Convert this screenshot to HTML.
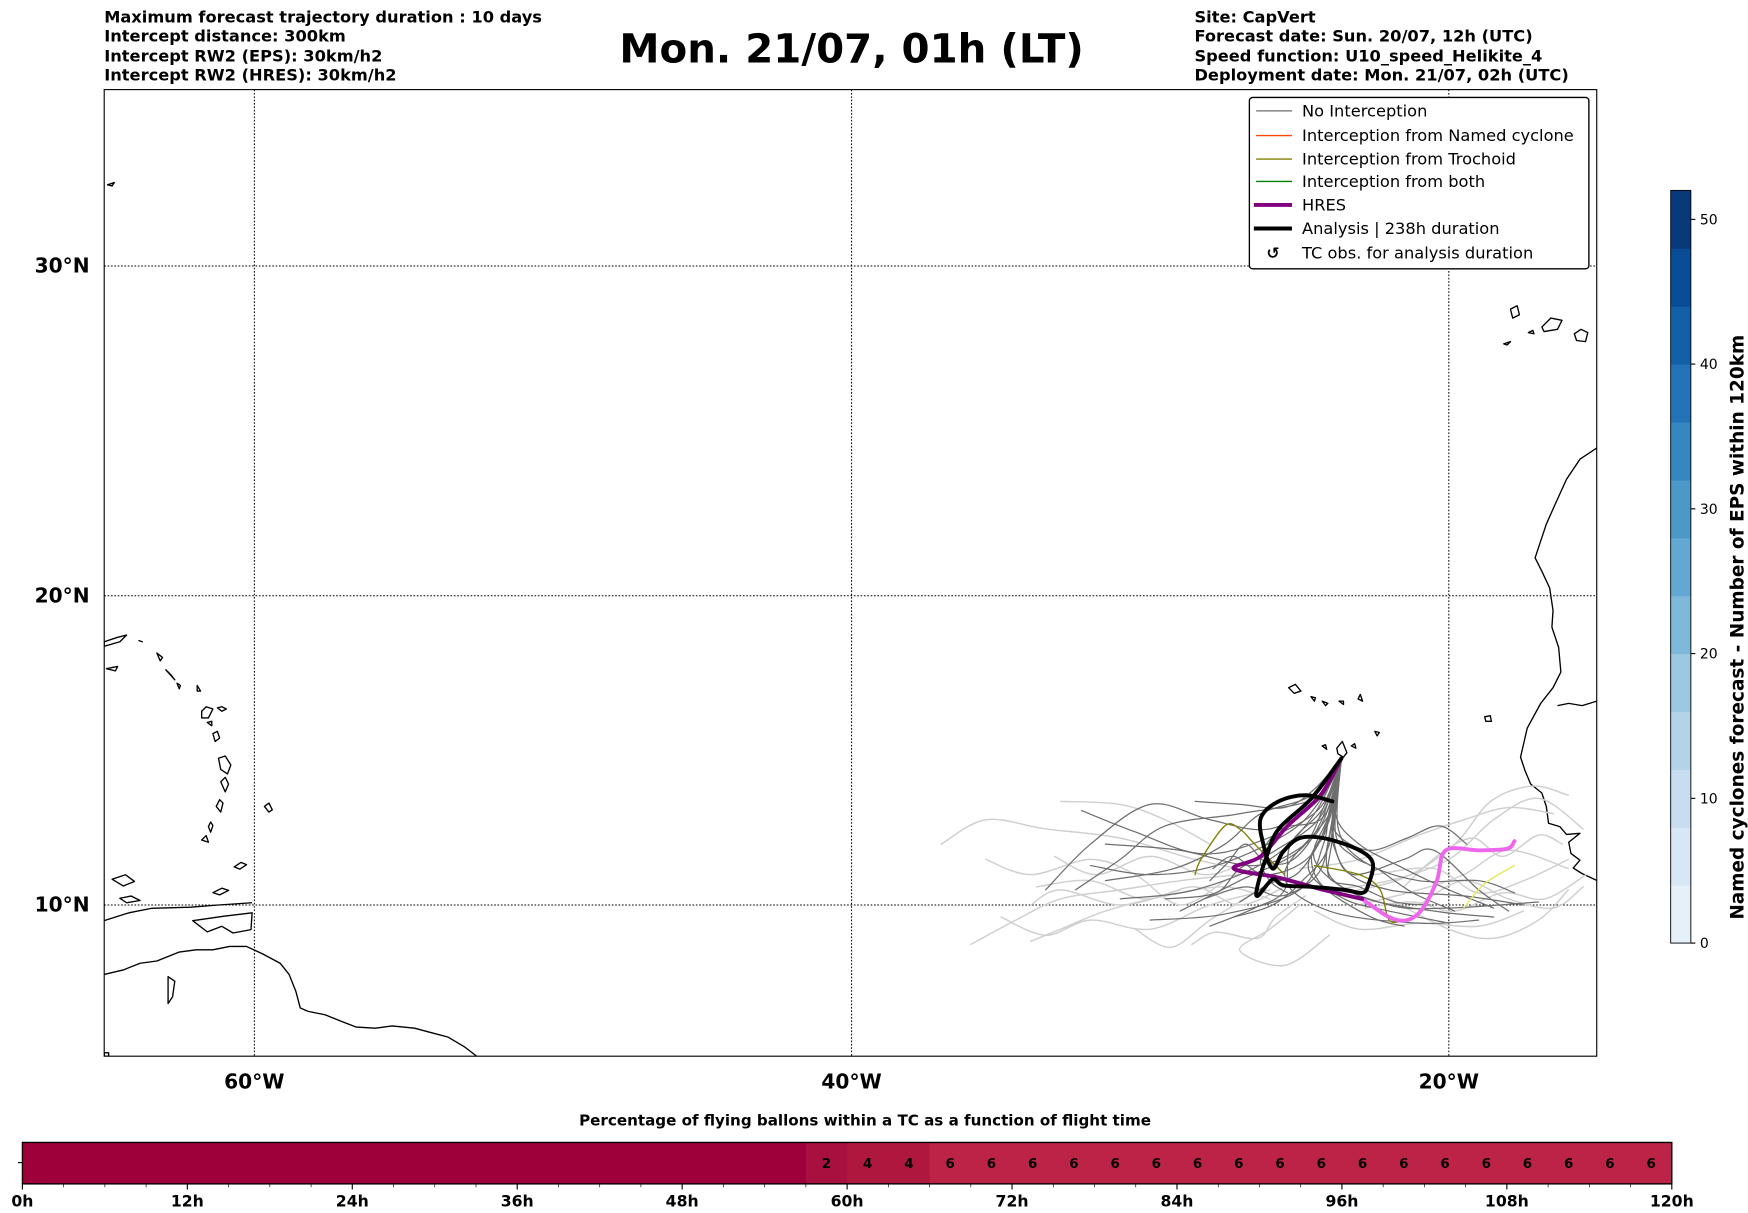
<!DOCTYPE html>
<html><head><meta charset="utf-8"><style>
html,body{margin:0;padding:0;background:#fff;width:1748px;height:1213px;overflow:hidden}
svg{display:block}
text{font-family:"DejaVu Sans","Liberation Sans",sans-serif}
</style></head><body>
<svg id="fig" width="1748" height="1213" viewBox="0 0 1560 1083" preserveAspectRatio="none" xmlns="http://www.w3.org/2000/svg">
<g font-size="14.5" font-weight="bold">
<text x="93" y="20">Maximum forecast trajectory duration : 10 days</text>
<text x="93" y="37">Intercept distance: 300km</text>
<text x="93" y="55">Intercept RW2 (EPS):  30km/h2</text>
<text x="93" y="72">Intercept RW2 (HRES): 30km/h2</text>
</g>
<text x="760" y="56" text-anchor="middle" font-size="36" font-weight="bold">Mon. 21/07, 01h (LT)</text>
<g font-size="14.5" font-weight="bold">
<text x="1066" y="20">Site: CapVert</text>
<text x="1066" y="37">Forecast date: Sun. 20/07, 12h (UTC)</text>
<text x="1066" y="55">Speed function: U10_speed_Helikite_4</text>
<text x="1066" y="72">Deployment date: Mon. 21/07, 02h (UTC)</text>
</g>
<defs><clipPath id="mapclip"><rect x="93" y="80" width="1332" height="863"/></clipPath></defs>
<g id="map">
<g id="grid"></g>
<g clip-path="url(#mapclip)" fill="none" stroke="#000" stroke-width="1.2" stroke-linejoin="round">
<path d="M1425,400 L1410,410 L1398,428 L1388,450 L1380,468 L1370,498 L1376,510 L1383,525 L1386,545 L1385,560 L1391,578 L1393,600 L1386,614 L1375,628 L1363,650 L1357,676 L1361,688 L1366,700 L1376,708 L1380,720 L1382,735 L1392,738 L1398,745 L1410,744 L1400,752 L1402,762 L1410,768 L1404,775 L1412,780 L1425,786"/>
<path d="M1390,630 L1400,628 L1412,630 L1425,626"/>
<path d="M1348,276 l6,-3 l2,8 l-6,3z M1376,292 l8,-8 l10,2 l-4,8 l-12,2z M1405,298 l6,-4 l6,3 l-2,8 l-8,-1z M1364,297 l4,-2 l1,3z M1342,307 l6,-2 l-3,3z"/>
<path d="M1150,614 l6,-3 l5,6 l-6,2z M1170,622 l4,1 l-1,3z M1180,626 l5,2 l-2,2z M1195,626 l4,0 l0,3z M1212,624 l2,-4 l2,6z M1325,640 l5,-1 l1,5 l-5,0z M1227,653 l4,1 l-2,3z M1193,668 l5,-6 l4,10 l-3,4 l-5,-3z M1206,666 l3,-2 l1,4z M1180,666 l3,-1 l1,4z"/>
<path d="M93,870 L110,866 L125,860 L140,858 L160,850 L175,848 L190,848 L205,845 L220,845 L235,852 L250,860 L258,870 L264,885 L268,900 L275,903 L290,906 L305,912 L318,917 L335,918 L350,916 L370,918 L385,922 L400,926 L415,935 L428,945"/>
<path d="M172,822 L200,818 L225,815 L224,830 L208,833 L198,827 L185,832 Z"/>
<path d="M93,822 L115,815 L135,811 L170,810 L195,808 L225,806"/>
<path d="M100,785 l12,-4 l8,6 l-10,4z M107,802 l10,-2 l8,4 l-12,2z M190,797 l8,-4 l6,2 l-8,4z M150,872 l6,4 l-2,14 l-4,6z M93,573 l12,-4 l8,-2 l-6,6 l-14,4z M95,597 l10,-2 l-2,4z M124,572 l3,1z M140,583 l5,4 l-2,3z M148,598 l5,5 l3,4z M158,610 l3,2 l-1,3z M176,612 l3,5 l-3,0z M180,635 l4,-4 l6,2 l-4,8 l-6,0z M194,632 l4,-1 l4,2 l-4,2z M185,645 l4,-1 l0,4z M190,655 l4,-2 l2,6 l-4,3z M195,677 l6,-2 l5,8 l-3,8 l-6,-4z M197,698 l4,-4 l3,6 l-3,7z M193,720 l3,-6 l3,3 l-2,8z M186,738 l2,-4 l2,3 l-2,6z M180,750 l4,-4 l2,6z M236,720 l4,-3 l3,6 l-3,2z M209,774 l6,-4 l5,2 l-6,4z"/>
<path d="M96,165 l6,-2 l-2,3z M93,940 l4,0 l0,3 l-4,0z"/>
</g>
<g id="traj" clip-path="url(#mapclip)"></g>
<rect x="93" y="80" width="1332" height="863" fill="none" stroke="#000" stroke-width="1"/>
<g id="axlabels" font-size="18" font-weight="bold"></g>
</g>
<g font-size="14.5">
<rect x="1115" y="87" width="303" height="153" rx="3" fill="#fff" stroke="#000" stroke-width="1.2"/>
<g><line x1="1121" y1="99" x2="1153" y2="99" stroke="#6e6e6e" stroke-width="1.2"/><text x="1162" y="104">No Interception</text></g>
<g><line x1="1121" y1="121" x2="1153" y2="121" stroke="#ff4500" stroke-width="1.2"/><text x="1162" y="126">Interception from Named cyclone</text></g>
<g><line x1="1121" y1="142" x2="1153" y2="142" stroke="#808000" stroke-width="1.2"/><text x="1162" y="147">Interception from Trochoid</text></g>
<g><line x1="1121" y1="162" x2="1153" y2="162" stroke="#008000" stroke-width="1.2"/><text x="1162" y="167">Interception from both</text></g>
<g><line x1="1119" y1="183" x2="1153" y2="183" stroke="#800080" stroke-width="3.5"/><text x="1162" y="188">HRES</text></g>
<g><line x1="1119" y1="204" x2="1153" y2="204" stroke="#000" stroke-width="3.5"/><text x="1162" y="209">Analysis | 238h duration</text></g>
<g><text x="1136" y="231" text-anchor="middle" font-weight="bold" font-size="14">↺</text><text x="1162" y="231">TC obs. for analysis duration</text></g>
</g>
<g id="cbar"></g>
<text transform="translate(1556,560) rotate(-90)" text-anchor="middle" font-size="16.5" font-weight="bold">Named cyclones forecast - Number of EPS within 120km</text>
<text x="772" y="1005" text-anchor="middle" font-size="13.5" font-weight="bold">Percentage of flying ballons within a TC as a function of flight time</text>
<g id="bbar"></g>
</svg>
<script>
// ---- map data ----
const lonTicks = [-60, -40, -20];
const latTicks = [10, 20, 30];
const startPt = [-23.6, 14.8];
const darkTraj = [
 [startPt,[-24.5,13],[-26,11.5],[-28.5,10.5],[-31,10.2]],
 [startPt,[-24.2,13.2],[-25,11.8],[-27,10.8],[-29,9.8]],
 [startPt,[-24,13],[-24.5,11.5],[-23,10.3],[-20.5,9.8],[-18.5,9.6]],
 [startPt,[-23.8,13.2],[-24,11],[-22,10],[-20,9.9],[-17,10.1]],
 [startPt,[-24.3,13.5],[-26,12.5],[-28,12.8],[-30,13.3],[-32,12],[-33.5,10.5]],
 [startPt,[-24.5,13.5],[-27,13],[-29.5,12.6],[-31,11.5],[-32.5,10.5]],
 [startPt,[-24,13],[-25.5,11],[-24,9.8],[-21,9.4],[-19,9.5]],
 [startPt,[-23.9,12.8],[-23.5,11.2],[-22,10.5],[-19.5,10.3],[-17.5,10]],
 [startPt,[-24.1,13],[-24.8,12],[-26.5,11.3],[-29,11.8],[-31.5,12]],
 [startPt,[-24.4,13.3],[-25.5,12.3],[-27.8,11.3],[-30,11],[-32,11.3]],
 [startPt,[-24,13.1],[-24.2,12],[-25,10.5],[-27.5,9.7],[-30,9.5]],
 [startPt,[-23.9,12.7],[-23.8,11.8],[-23.2,11],[-21.5,11.5],[-20.5,11.8],[-19,10.5],[-18,9.8]],
 [startPt,[-24.2,13.2],[-25.3,12],[-25.5,10.5],[-26.5,9.9],[-28,9.3]],
 [startPt,[-24.6,13.6],[-26.3,13],[-27.5,12],[-29.2,11.2],[-31.5,10.8]],
 [startPt,[-24,12.8],[-24.7,11.2],[-23.5,10.2],[-22,9.8],[-20,9.4]],
 [startPt,[-23.8,13],[-23,12],[-21.5,11.2],[-20,10.5],[-18.5,9.9]],
 [startPt,[-24.3,12.9],[-25.8,11.8],[-27,11.2],[-27.8,10.4],[-29.5,10.2]],
 [startPt,[-23.7,12.5],[-22.8,11.4],[-21,10.8],[-19,10.8],[-17.8,10.4]],
 [startPt,[-24.1,12.6],[-25,11.1],[-26,10.7],[-27,10.1]],
 [startPt,[-24.5,13.8],[-25.5,13.2],[-27,13.3],[-28.5,13.4]],
 [startPt,[-24.2,12.4],[-24.9,11.4],[-26.2,11.0],[-27.2,11.6],[-27.9,11.2]],
 [startPt,[-24.0,12.3],[-24.4,11.0],[-25.6,10.3],[-26.8,10.6],[-28.2,10.2]],
 [startPt,[-23.9,12.2],[-24.0,10.9],[-23.0,10.6],[-21.8,10.1],[-20.6,10.0]],
 [startPt,[-24.1,12.5],[-24.6,11.6],[-24.2,10.6],[-22.6,9.6],[-21.5,9.3]],
 [startPt,[-24.3,12.7],[-25.2,11.5],[-26.1,11.4],[-26.8,12.0],[-27.4,11.4],[-28,10.8]],
 [startPt,[-23.8,12.4],[-23.2,11.6],[-22.4,11.2],[-21.2,10.4],[-19.8,9.8]],
 [startPt,[-24.0,12.0],[-24.9,10.8],[-25.9,10.0],[-27.2,9.6]],
 [startPt,[-24.2,12.9],[-25.6,12.5],[-26.3,11.6],[-26.0,10.8],[-25.4,10.4]],
 [startPt,[-23.9,12.9],[-23.6,12.2],[-22.6,11.8],[-21.4,12.2],[-20.3,12.6],[-19.4,12.0]],
 [startPt,[-24.4,13.1],[-26.6,12.0],[-28.4,11.7],[-30.5,12.4],[-32.3,13.1]]
];
const lightTraj = [
 [[-27,11],[-29,10.8],[-31,10.5],[-33,10.2],[-34.5,9.5],[-36,8.7]],
 [[-26,11],[-28.5,11.5],[-31,12.2],[-33.5,12.5],[-35.5,12.8],[-37,12]],
 [[-26,10.5],[-28,10],[-30,9.2],[-32,9.5],[-33.5,9],[-35,9.6]],
 [[-24,10.5],[-22,10.8],[-20,11.5],[-18.5,12.8],[-17,13.5],[-15.5,12.5]],
 [[-23,10],[-21,10.5],[-19.5,11],[-18,11.8],[-16,11.2]],
 [[-25,10],[-26,9.2],[-27,8.5],[-25.5,8],[-24,9]],
 [[-22,10.2],[-20,9.2],[-18.5,8.9],[-17,9.5],[-16,10.5]],
 [[-27.5,10.8],[-29,10],[-30.5,11],[-32,11.5],[-34,11],[-35.5,11.5]],
 [[-25,11.2],[-23,11.5],[-21,12.3],[-19.5,12.8],[-18,13.2],[-16.5,13]],
 [[-28,12],[-29.5,12.8],[-31,13.3],[-33,13.4]],
 [[-24.5,9.8],[-23,9.2],[-21,9.4],[-19,9.3],[-17.5,9.8]],
 [[-26.5,10.4],[-28,9.5],[-29.3,8.6],[-30.5,9.2]],
 [[-22.5,11],[-20.5,11.2],[-19,10.4],[-17.5,10.8],[-16,11.5]],
 [[-29,10.5],[-31,10],[-33,10.5],[-34,10]],
 [[-21,10],[-19.5,10.8],[-18,10.2],[-16.5,9.9],[-15.5,10.6]],
 [[-26,10.2],[-27.5,10.6],[-29.5,10.3],[-31.5,9.8],[-33,9.2],[-34,8.8]],
 [[-23.5,10.4],[-21.5,10.9],[-19.8,12.0],[-18.6,13.4],[-17.2,13.9],[-16,13.6]],
 [[-25.5,10.6],[-27,10.0],[-28.5,10.6],[-30.2,10.2],[-32,10.8],[-33.8,10.6]],
 [[-22.8,9.9],[-21.2,10.1],[-19.8,9.8],[-18.2,10.4],[-16.8,10.2],[-15.4,11.0]],
 [[-24.8,10.3],[-25.8,9.6],[-26.4,8.9],[-27.8,9.1],[-28.6,8.7]],
 [[-26.8,11.4],[-28.2,11.0],[-30,11.6],[-31.8,11.0],[-33.2,11.6]],
 [[-21.5,10.6],[-20.4,11.6],[-19.2,12.2],[-18.2,11.6],[-17,12.3],[-16.2,12.0]]
];
const oliveTraj = [
 [[-25.5,11],[-26.5,12],[-27,12.5],[-27.5,12.6],[-28.3,11.5],[-28.5,11]],
 [[-24.5,11.3],[-23,11],[-22.3,10.5],[-22,9.5],[-21.5,9.5]]
];
const yellowTraj = [[-19.5,9.9],[-18.8,10.7],[-17.8,11.3]];
const hresLon = [-23.6,-24.3,-25.4,-26.3,-27.2,-25.7,-24.2,-22.9];
const hresLat = [14.8,13.6,12.6,11.6,11.2,10.9,10.5,10.2];
const hresLateLon = [-22.9,-22.0,-21.4,-20.9,-20.4,-20.1,-19.0,-18.05,-17.8];
const hresLateLat = [10.2,9.6,9.5,9.85,10.8,11.8,11.8,11.85,12.1];
const anaLon = [-23.6,-24.6,-25.7,-26.1,-26.4,-26.4,-25.9,-25.55,-24.6,-23.5,-22.9,-22.7,-22.55,-23.1,-24.2,-25.0,-25.55,-25.9,-26.2,-26.3,-25.7,-24.8,-23.9];
const anaLat = [14.8,13.5,12.5,11.6,10.65,10.3,10.85,10.65,10.6,10.5,10.4,10.65,11.4,11.85,12.2,12.2,11.75,11.2,11.95,12.85,13.4,13.6,13.4];
// ---- colorbar data ----
const cbTicks = [0,10,20,30,40,50];
const cbMax = 52;
// ---- bottom bar data ----
const hourTicks = [0,12,24,36,48,60,72,84,96,108,120];
const binStart = [57,60,63,66,69,72,75,78,81,84,87,90,93,96,99,102,105,108,111,114,117];
const binPct = [2,4,4,6,6,6,6,6,6,6,6,6,6,6,6,6,6,6,6,6,6];

const NS='http://www.w3.org/2000/svg';
function mk(tag,attrs,parent){const e=document.createElementNS(NS,tag);for(const k in attrs)e.setAttribute(k,attrs[k]);parent.appendChild(e);return e;}
const merc = l => Math.log(Math.tan(Math.PI/4 + l*Math.PI/360));
const xOf = lon => 227 + (lon+60)*26.65;
const yOf = lat => 808 - (merc(lat)-merc(10))*1526;
const fmtLon = v => Math.abs(v)+'°W';
const fmtLat = v => v+'°N';

const grid=document.getElementById('grid'), axl=document.getElementById('axlabels');
lonTicks.forEach(v=>{
 const l=mk('line',{x1:xOf(v),x2:xOf(v),y1:80,y2:943,stroke:'#000','stroke-width':0.9,'stroke-dasharray':'1.5,1.5'},grid);
 
 
 const t=mk('text',{x:xOf(v),y:972,'text-anchor':'middle'},axl); t.textContent=fmtLon(v);
 
 
});
latTicks.forEach(v=>{
 const l=mk('line',{x1:93,x2:1425,y1:yOf(v),y2:yOf(v),stroke:'#000','stroke-width':0.9,'stroke-dasharray':'1.5,1.5'},grid);
 
 
 const t=mk('text',{x:80,y:yOf(v)+6,'text-anchor':'end'},axl); t.textContent=fmtLat(v);
 
 
});
const traj=document.getElementById('traj');
function poly(pts,color,w,name){
 const P=pts.map(p=>[xOf(p[0]),yOf(p[1])]);
 let d='M'+P[0][0].toFixed(1)+','+P[0][1].toFixed(1);
 for(let i=0;i<P.length-1;i++){
  const p0=P[Math.max(0,i-1)],p1=P[i],p2=P[i+1],p3=P[Math.min(P.length-1,i+2)];
  const c1=[p1[0]+(p2[0]-p0[0])/6,p1[1]+(p2[1]-p0[1])/6],c2=[p2[0]-(p3[0]-p1[0])/6,p2[1]-(p3[1]-p1[1])/6];
  d+=' C'+c1[0].toFixed(1)+','+c1[1].toFixed(1)+' '+c2[0].toFixed(1)+','+c2[1].toFixed(1)+' '+p2[0].toFixed(1)+','+p2[1].toFixed(1);
 }
 const p=mk('path',{d:d,fill:'none',stroke:color,'stroke-width':w,'stroke-linejoin':'round','stroke-linecap':'round'},traj);
 
 
}
lightTraj.forEach(t=>poly(t,'#cfcfcf',1.3,'trajectory-far'));
darkTraj.forEach(t=>poly(t,'#6e6e6e',1.1,'trajectory-no-interception'));
oliveTraj.forEach(t=>poly(t,'#808000',1.2,'trajectory-trochoid'));
poly(yellowTraj,'#e6e65a',1.2,'trajectory-trochoid-late');
poly(hresLateLon.map((v,i)=>[v,hresLateLat[i]]),'#ee66ee',3.5,'hres-late-track');
poly(hresLon.map((v,i)=>[v,hresLat[i]]),'#800080',3.5,'hres-track');
poly(anaLon.map((v,i)=>[v,anaLat[i]]),'#000',3.5,'analysis-track');

// colorbar (matplotlib Blues)
const blues=[[247,251,255],[222,235,247],[198,219,239],[158,202,225],[107,174,214],[66,146,198],[33,113,181],[8,81,156],[8,48,107]];
function bluesAt(f){const s=f*(blues.length-1),i=Math.min(blues.length-2,Math.floor(s)),t=s-i;return blues[i].map((c,k)=>Math.round(c+(blues[i+1][k]-c)*t));}
const cb=document.getElementById('cbar');
const cbY=v=>842-(v/cbMax)*672;
for(let i=0;i<cbMax;i+=4){
 const c=bluesAt((i+2)/cbMax*0.95+0.05);
 const rc=mk('rect',{x:1491,y:cbY(Math.min(i+4,cbMax)),width:18,height:cbY(i)-cbY(Math.min(i+4,cbMax))+0.5,fill:`rgb(${c[0]},${c[1]},${c[2]})`},cb);
 
 
}
mk('rect',{x:1491,y:170,width:18,height:672,fill:'none',stroke:'#000','stroke-width':0.8},cb);
cbTicks.forEach(v=>{
 mk('line',{x1:1509,x2:1513,y1:cbY(v),y2:cbY(v),stroke:'#000'},cb);
 const t=mk('text',{x:1517,y:cbY(v)+4.5,'font-size':12.5},cb); t.textContent=v;
 
 
});

// bottom bar
const bb=document.getElementById('bbar');
const hx=h=>20+h*1472/120;
const pctColor=p=>p>=6?'#bd2346':p>=4?'#b0173f':p>=2?'#a8103f':'#9e003a';
mk('rect',{x:20,y:1020,width:1472,height:37,fill:'#9e003a'},bb);
binStart.forEach((h,i)=>{
 const c=mk('rect',{x:hx(h),y:1020,width:hx(h+3)-hx(h)+0.3,height:37,fill:pctColor(binPct[i])},bb);
 
 
 const t=mk('text',{x:(hx(h)+hx(h+3))/2,y:1043,'text-anchor':'middle','font-size':12,'font-weight':'bold'},bb); t.textContent=binPct[i];
 
 
});
mk('rect',{x:20,y:1020,width:1472,height:37,fill:'none',stroke:'#000','stroke-width':1.2},bb);
mk('line',{x1:16,x2:20,y1:1038,y2:1038,stroke:'#000'},bb);
for(let h=0;h<=120;h+=3){ mk('line',{x1:hx(h),x2:hx(h),y1:1057,y2:h%12?1060:1062,stroke:'#000','stroke-width':h%12?0.6:1},bb); }
hourTicks.forEach(h=>{
 const t=mk('text',{x:hx(h),y:1077,'text-anchor':'middle','font-size':14,'font-weight':'bold'},bb); t.textContent=h+'h';
 
 
});
</script>
</body></html>
